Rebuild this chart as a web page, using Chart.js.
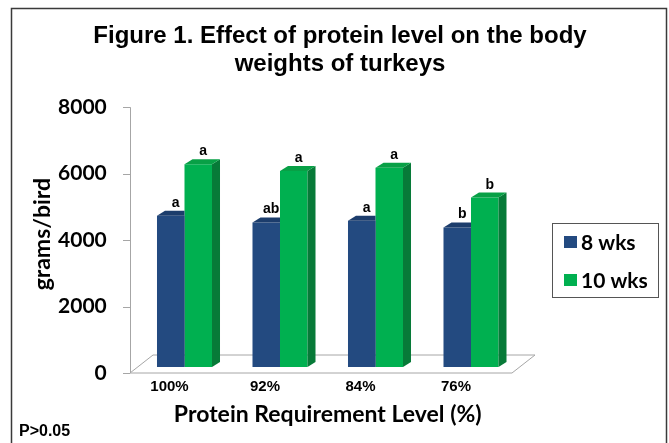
<!DOCTYPE html>
<html>
<head>
<meta charset="utf-8">
<script src="https://cdn.jsdelivr.net/npm/chart.js@4/dist/chart.umd.min.js"></script>
<style>
  html, body { margin: 0; padding: 0; background: #fff; }
  #wrap { width: 669px; height: 443px; }
</style>
</head>
<body>
<div id="wrap"><canvas id="c" width="669" height="443"></canvas></div>
<script>
// Protein requirement levels and mean body weights (g/bird)
const categories = ['100%', '92%', '84%', '76%'];
const seriesNames = ['8 wks', '10 wks'];
const weeks8 = [4550, 4350, 4400, 4200];
const weeks10 = [6100, 5900, 6000, 5100];
// Mean separation letters above each column
const letters8 = ['a', 'ab', 'a', 'b'];
const letters10 = ['a', 'a', 'a', 'b'];
const yTicks = [0, 2000, 4000, 6000, 8000];

// Face colours for the pseudo-3D columns: front, top, side
const faces = [
  { front: '#234A80', top: '#1C3D6C', side: '#162F55' },
  { front: '#00B050', top: '#08A046', side: '#077A38' }
];
const BAR_DX = 8, BAR_DY = 5;              // column depth
const FLOOR_FRONT = { dx: -6.75, dy: 6 };  // floor front edge relative to column plane
const FLOOR_BACK = { dx: 16.25, dy: -12 }; // floor back edge relative to column plane

function barGeom(bar) {
  const p = bar.getProps(['x', 'y', 'base', 'width'], true);
  return { l: p.x - p.width / 2, r: p.x + p.width / 2, x: p.x, t: Math.min(p.y, p.base), b: Math.max(p.y, p.base) };
}

const depthPlugin = {
  id: 'depth3d',
  beforeDraw(chart) {
    const ctx = chart.ctx;
    ctx.save();
    ctx.fillStyle = '#fff';
    ctx.fillRect(0, 0, chart.width, chart.height);
    ctx.strokeStyle = '#3a3a3a';
    ctx.lineWidth = 1.5;
    ctx.strokeRect(11.5, 8.5, 655, 460);
    ctx.restore();
  },
  beforeDatasetsDraw(chart) {
    const ctx = chart.ctx;
    const a = chart.chartArea;
    const ys = chart.scales.y;
    const base = ys.getPixelForValue(0);
    const fl = a.left + FLOOR_FRONT.dx, fr = a.right + FLOOR_FRONT.dx, fy = base + FLOOR_FRONT.dy;
    const bl = a.left + FLOOR_BACK.dx, br = a.right + FLOOR_BACK.dx, by = base + FLOOR_BACK.dy;
    ctx.save();
    ctx.strokeStyle = '#A6A6A6';
    ctx.lineWidth = 1;
    // floor
    ctx.beginPath();
    ctx.moveTo(fl, fy); ctx.lineTo(fr, fy); ctx.lineTo(br, by); ctx.lineTo(bl, by); ctx.closePath();
    ctx.fillStyle = '#fff';
    ctx.fill();
    ctx.stroke();
    // value axis on the front plane
    const top = ys.getPixelForValue(yTicks[yTicks.length - 1]) + FLOOR_FRONT.dy;
    ctx.beginPath();
    ctx.moveTo(Math.round(fl) + 0.5, top);
    ctx.lineTo(Math.round(fl) + 0.5, fy);
    yTicks.forEach(v => {
      const py = Math.round(ys.getPixelForValue(v) + FLOOR_FRONT.dy) + 0.5;
      ctx.moveTo(fl - 7, py);
      ctx.lineTo(fl, py);
    });
    ctx.stroke();
    ctx.restore();
  },
  afterDatasetsDraw(chart) {
    const ctx = chart.ctx;
    const metas = chart.data.datasets.map((d, i) => chart.getDatasetMeta(i));
    const letters = [letters8, letters10];
    categories.forEach((c, i) => {
      metas.forEach((meta, d) => {
        const g = barGeom(meta.data[i]);
        const f = faces[d];
        ctx.save();
        const next = metas[d + 1] ? barGeom(metas[d + 1].data[i]) : null;
        if (next) {
          ctx.beginPath();
          ctx.rect(0, 0, chart.width, chart.height);
          ctx.rect(next.l, next.t, next.r - next.l, next.b - next.t);
          ctx.clip('evenodd');
        }
        // side face
        ctx.beginPath();
        ctx.moveTo(g.r, g.t); ctx.lineTo(g.r + BAR_DX, g.t - BAR_DY);
        ctx.lineTo(g.r + BAR_DX, g.b - BAR_DY); ctx.lineTo(g.r, g.b); ctx.closePath();
        ctx.fillStyle = f.side; ctx.fill();
        // top face
        ctx.beginPath();
        ctx.moveTo(g.l, g.t); ctx.lineTo(g.r, g.t);
        ctx.lineTo(g.r + BAR_DX, g.t - BAR_DY); ctx.lineTo(g.l + BAR_DX, g.t - BAR_DY); ctx.closePath();
        ctx.fillStyle = f.top; ctx.fill();
        ctx.restore();
      });
    });
    // significance letters
    ctx.save();
    ctx.font = 'bold 14px "Liberation Sans", Arial, sans-serif';
    ctx.fillStyle = '#000';
    ctx.textAlign = 'center';
    ctx.textBaseline = 'alphabetic';
    metas.forEach((meta, d) => {
      meta.data.forEach((bar, i) => {
        const g = barGeom(bar);
        ctx.fillText(letters[d][i], g.x + 5, g.t - 9);
      });
    });
    ctx.restore();
  },
  afterDraw(chart) {
    const ctx = chart.ctx;
    ctx.save();
    // legend box
    ctx.strokeStyle = '#555';
    ctx.lineWidth = 1;
    ctx.strokeRect(552.5, 223.5, 106, 74);
    ctx.font = 'bold 21px Lato, sans-serif';
    ctx.textAlign = 'left';
    ctx.textBaseline = 'middle';
    chart.data.datasets.forEach((ds, i) => {
      const cy = 242 + i * 38;
      ctx.fillStyle = ds.backgroundColor;
      ctx.fillRect(564, cy - 6, 13, 12);
      ctx.fillStyle = '#000';
      ctx.fillText(ds.label, 581, cy + 1);
    });
    // significance note
    ctx.font = 'bold 16px "Liberation Sans", Arial, sans-serif';
    ctx.fillText('P>0.05', 19, 432);
    ctx.restore();
  }
};

new Chart(document.getElementById('c'), {
  type: 'bar',
  data: {
    labels: categories,
    datasets: [
      { label: seriesNames[0], data: weeks8, backgroundColor: faces[0].front },
      { label: seriesNames[1], data: weeks10, backgroundColor: faces[1].front }
    ]
  },
  options: {
    responsive: false,
    animation: false,
    devicePixelRatio: 1,
    layout: { padding: { left: 11, right: 0, top: 0, bottom: 0 } },
    datasets: { bar: { categoryPercentage: 0.576, barPercentage: 1, borderWidth: 0 } },
    plugins: {
      legend: { display: false },
      tooltip: { enabled: false },
      title: {
        display: true,
        text: ['Figure 1. Effect of protein level on the body', 'weights of turkeys'],
        color: '#000',
        font: { family: '"Liberation Sans", Arial, sans-serif', size: 24, weight: 'bold', lineHeight: 1.15 },
        padding: { top: 23, bottom: 23 }
      }
    },
    scales: {
      x: {
        grid: { display: false, drawTicks: false },
        border: { display: false },
        ticks: {
          color: '#000',
          font: { family: '"Liberation Sans", Arial, sans-serif', size: 15, weight: 'bold' },
          padding: 11, labelOffset: -15, maxRotation: 0, autoSkip: false
        },
        title: {
          display: true, text: 'Protein Requirement Level (%)', color: '#000',
          font: { family: 'Lato, sans-serif', size: 23, weight: 'bold' },
          padding: { top: 0, bottom: 15 }
        },
        afterFit(s) { s.height = 76; }
      },
      y: {
        min: 0, max: 8000,
        afterBuildTicks(s) { s.ticks = yTicks.map(v => ({ value: v })); },
        grid: { display: false, drawTicks: false },
        border: { display: false },
        ticks: {
          color: '#000',
          font: { family: 'Lato, sans-serif', size: 21, weight: 'bold' },
          padding: 30, labelOffset: 6,
          callback: v => String(v)
        },
        title: {
          display: true, text: 'grams/bird', color: '#000',
          font: { family: 'Lato, sans-serif', size: 23, weight: 'bold' },
          padding: { top: 18, bottom: 0 }
        },
        afterFit(s) { s.width = 125.75; }
      },
      spacer: {
        type: 'linear', position: 'right', display: true,
        grid: { display: false }, border: { display: false }, ticks: { display: false },
        afterFit(s) { s.width = 150.25; }
      }
    }
  },
  plugins: [depthPlugin]
});
</script>
</body>
</html>
